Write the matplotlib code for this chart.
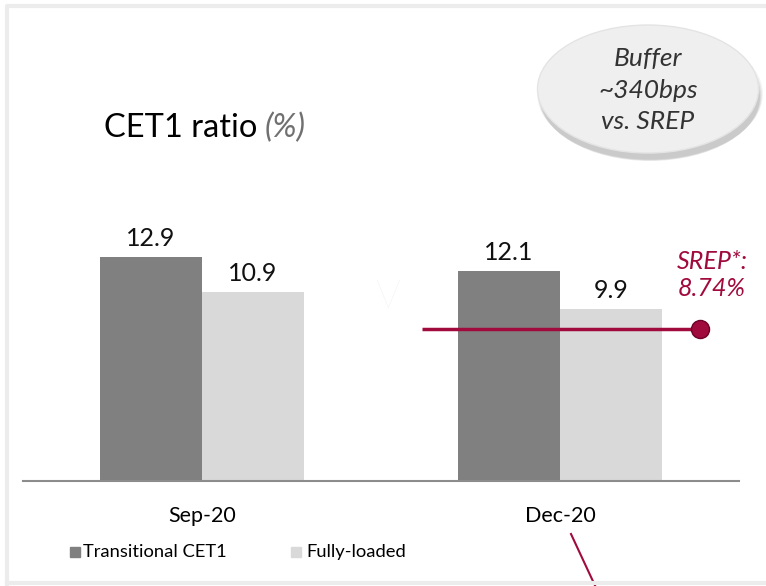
import matplotlib.pyplot as plt
from matplotlib.patches import Ellipse, Rectangle
from matplotlib.lines import Line2D

plt.rcParams["font.family"] = ["Lato", "DejaVu Sans"]

# data
periods = ["Sep-20", "Dec-20"]
transitional = [12.9, 12.1]
fully_loaded = [10.9, 9.9]
srep = 8.74
series_names = ["Transitional CET1", "Fully-loaded"]

W, H = 766, 586
fig = plt.figure(figsize=(W / 100, H / 100), dpi=100)

# axes placed in pixel terms: baseline at y=481, x from 23 to 739
ax_l, ax_r, ax_b, ax_t = 23, 739, 481, 10
ax = fig.add_axes([ax_l / W, (H - ax_b) / H, (ax_r - ax_l) / W, (ax_b - ax_t) / H])
unit = 358.0
ax.set_xlim(-(202 - ax_l) / unit, 1 + (ax_r - 560) / unit)
ax.set_ylim(0, (ax_b - ax_t) / 17.36)
bw = 102 / unit

x = range(len(periods))
b1 = ax.bar([i - bw / 2 for i in x], transitional, bw, color="#808080", label=series_names[0])
b2 = ax.bar([i + bw / 2 for i in x], fully_loaded, bw, color="#d9d9d9", label=series_names[1])

for bars, vals in ((b1, transitional), (b2, fully_loaded)):
    for r, v in zip(bars, vals):
        ax.text(r.get_x() + r.get_width() / 2, v + 0.4, f"{v:.1f}",
                ha="center", va="bottom", fontsize=18, color="#111111")

for s in ["top", "right", "left"]:
    ax.spines[s].set_visible(False)
ax.spines["bottom"].set_color("#8c8c8c")
ax.spines["bottom"].set_linewidth(1.5)
ax.set_yticks([])
ax.set_xticks(list(x))
ax.set_xticklabels(periods, fontsize=15.5)
ax.tick_params(axis="x", length=0, pad=18)

# SREP line with marker
x_srep0 = (422 - 560) / unit + 1
x_srep1 = (700 - 560) / unit + 1
ax.plot([x_srep0, x_srep1], [srep, srep], color="#a00a3c", lw=2.5, solid_capstyle="butt")
ax.plot([x_srep1], [srep], "o", color="#a00a3c", ms=13, mec="#6e0028", mew=1)
fig.text(712 / W, 1 - 275 / H, f"SREP*:\n{srep:.2f}%", ha="center", va="center",
         fontsize=18, style="italic", color="#a00a3c", linespacing=1.25)

# faint marker ghost
fig.text(388 / W, 1 - 297 / H, "V", fontsize=28, color="#f0f0f0", ha="center", va="center",
         fontweight="light")

# title
fig.text(104 / W, 1 - 128 / H, "CET1 ratio", fontsize=23.5, color="#000000", va="center")
fig.text(265 / W, 1 - 128 / H, "(%)", fontsize=23.5, color="#707070", style="italic",
         va="center")

# buffer bubble with a soft shadow
for k, a in enumerate([0.04, 0.05, 0.06, 0.07]):
    fig.patches.append(Ellipse((650 / W, 1 - (94 + k) / H), (226 - 2 * k) / W, (131 - k) / H,
                               transform=fig.transFigure, color="#000000", alpha=a, lw=0))
fig.patches.append(Ellipse((648 / W, 1 - 89 / H), 221 / W, 128 / H,
                           transform=fig.transFigure, facecolor="#efefef", edgecolor="#e4e4e4", lw=1))
fig.text(648 / W, 1 - 90 / H, "Buffer\n~340bps\nvs. SREP", ha="center", va="center",
         fontsize=19, style="italic", color="#333333", linespacing=1.45)

# legend
fig.patches.append(Rectangle((70 / W, 1 - 557 / H), 10 / W, 10 / H, transform=fig.transFigure,
                             color="#808080"))
fig.text(83 / W, 1 - 552 / H, series_names[0], fontsize=13.2, va="center")
fig.patches.append(Rectangle((291 / W, 1 - 557 / H), 10 / W, 10 / H, transform=fig.transFigure,
                             color="#d9d9d9"))
fig.text(306 / W, 1 - 552 / H, series_names[1], fontsize=13.2, va="center")

# callout line leaving the frame
fig.add_artist(Line2D([571 / W, 598 / W], [1 - 534 / H, 1 - 592 / H], color="#a00a3c", lw=1.5))

# outer frame
fig.add_artist(Line2D([6.5 / W, 6.5 / W, 1], [1 - 584 / H, 1 - 5.5 / H, 1 - 5.5 / H],
                      color="#ececec", lw=3))
fig.add_artist(Line2D([6.5 / W, 1], [1 - 583 / H, 1 - 583 / H], color="#ececec", lw=3))

fig.savefig("out.png", dpi=100)
